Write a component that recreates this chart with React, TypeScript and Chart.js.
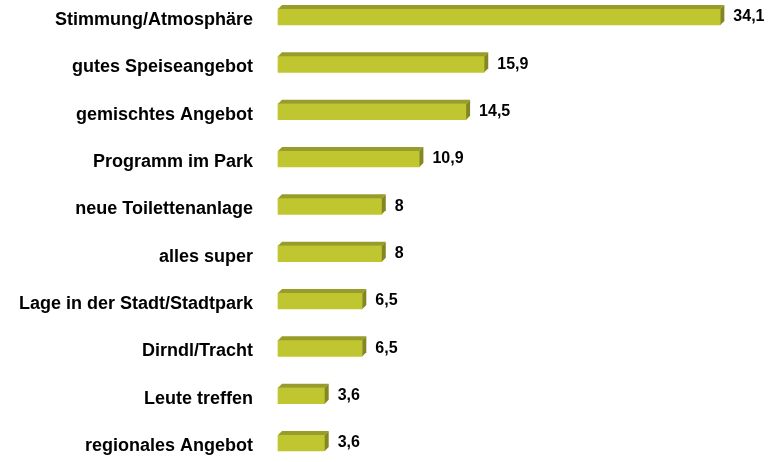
import React, { useEffect, useRef } from "react";
import { Chart, registerables } from "chart.js";

Chart.register(...registerables);

const categories: string[] = [
  "Stimmung/Atmosphäre",
  "gutes Speiseangebot",
  "gemischtes Angebot",
  "Programm im Park",
  "neue Toilettenanlage",
  "alles super",
  "Lage in der Stadt/Stadtpark",
  "Dirndl/Tracht",
  "Leute treffen",
  "regionales Angebot",
];

const values: number[] = [34.1, 15.9, 14.5, 10.9, 8, 8, 6.5, 6.5, 3.6, 3.6];

const FRONT = "#c0c62f";
const TOP = "#979c2b";
const SIDE = "#83871f";
const DEPTH = 4;
const FONT_FAMILY = "'Liberation Sans', Arial, sans-serif";

const fmt = (v: number) => String(v).replace(".", ",");

const bar3dPlugin = {
  id: "bar3d",
  afterDatasetsDraw(chart: any) {
    const ctx = chart.ctx;
    const meta = chart.getDatasetMeta(0);
    ctx.save();
    meta.data.forEach((el: any, i: number) => {
      const { x, y, base, height } = el.getProps(["x", "y", "base", "height"], true);
      const top = y - height / 2;
      const bottom = y + height / 2;
      ctx.fillStyle = TOP;
      ctx.beginPath();
      ctx.moveTo(base, top);
      ctx.lineTo(base + DEPTH, top - DEPTH);
      ctx.lineTo(x + DEPTH, top - DEPTH);
      ctx.lineTo(x, top);
      ctx.closePath();
      ctx.fill();
      ctx.fillStyle = SIDE;
      ctx.beginPath();
      ctx.moveTo(x, top);
      ctx.lineTo(x + DEPTH, top - DEPTH);
      ctx.lineTo(x + DEPTH, bottom - DEPTH);
      ctx.lineTo(x, bottom);
      ctx.closePath();
      ctx.fill();
      ctx.fillStyle = "#000";
      ctx.font = `bold 16px ${FONT_FAMILY}`;
      ctx.textAlign = "left";
      ctx.textBaseline = "middle";
      ctx.fillText(fmt(values[i]), x + 13, y);
    });
    ctx.restore();
  },
};

export default function App() {
  const canvasRef = useRef<HTMLCanvasElement | null>(null);

  useEffect(() => {
    if (!canvasRef.current) return;
    const chart = new Chart(canvasRef.current, {
      type: "bar",
      data: {
        labels: categories,
        datasets: [
          {
            data: values,
            backgroundColor: FRONT,
            borderWidth: 0,
            barThickness: 16,
            clip: false as any,
          },
        ],
      },
      plugins: [bar3dPlugin],
      options: {
        indexAxis: "y",
        animation: false,
        responsive: true,
        maintainAspectRatio: false,
        layout: { padding: { top: 17, bottom: 19, left: 0, right: 28 } },
        plugins: {
          legend: { display: false },
          tooltip: { enabled: false },
        },
        scales: {
          x: {
            display: false,
            min: 0,
            max: 36,
          },
          y: {
            offset: false,
            border: { display: false },
            grid: { display: false, drawTicks: false },
            ticks: {
              color: "#000",
              padding: 25,
              labelOffset: 3,
              font: { family: FONT_FAMILY, size: 18, weight: "bold" },
            },
            afterFit(scale: any) {
              scale.width = 278;
              scale.paddingTop = 0;
              scale.paddingBottom = 0;
            },
          },
        },
      },
    });
    return () => chart.destroy();
  }, []);

  return (
    <div style={{ position: "absolute", left: 0, top: 0, width: 773, height: 462, background: "#fff" }}>
      <canvas ref={canvasRef} />
    </div>
  );
}
